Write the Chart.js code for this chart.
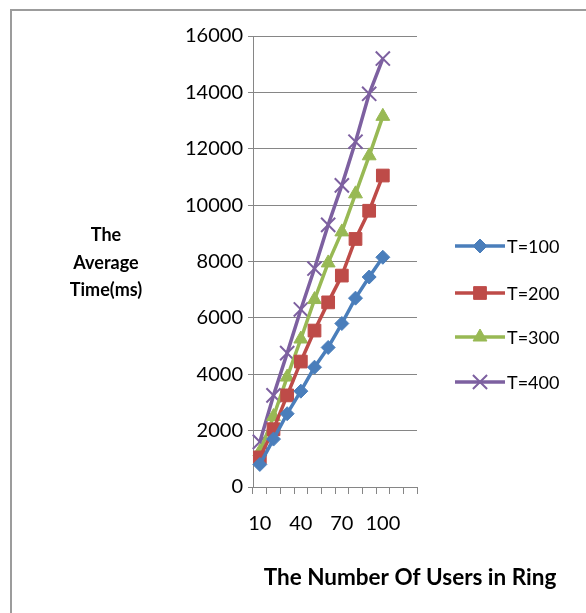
<!DOCTYPE html>
<html>
<head>
<meta charset="utf-8">
<script src="https://cdn.jsdelivr.net/npm/chart.js@4/dist/chart.umd.min.js"></script>
<style>
  html, body { margin: 0; padding: 0; background: #fff; overflow: hidden; }
  #wrap { position: relative; width: 586px; height: 613px; }
  #frame { position: absolute; left: 10px; top: 9px; width: 700px; height: 700px;
           border-left: 2px solid #9c9c9c; border-top: 2px solid #9c9c9c; }
  canvas { position: absolute; left: 0; top: 0; }
</style>
</head>
<body>
<div id="wrap">
  <div id="frame"></div>
  <canvas id="c" width="586" height="613"></canvas>
</div>
<script>
// Number of users in the ring (category axis)
const userCounts = ['10', '20', '30', '40', '50', '60', '70', '80', '90', '100', '110', '120'];

// Average time (ms) for each timeout setting
const seriesNames = ['T=100', 'T=200', 'T=300', 'T=400'];
const t100 = [800, 1700, 2600, 3400, 4250, 4950, 5800, 6700, 7450, 8150];
const t200 = [1050, 2050, 3250, 4450, 5550, 6550, 7500, 8800, 9800, 11050];
const t300 = [1250, 2500, 3900, 5250, 6650, 7950, 9050, 10400, 11750, 13150];
const t400 = [1600, 3250, 4750, 6300, 7750, 9300, 10700, 12250, 13950, 15200];

const yMin = 0, yMax = 16000, yStep = 2000;

const yTitleLines = ['The', 'Average', 'Time(ms)'];
const xTitle = 'The Number Of Users in Ring';

const colors = ['#4a7ebb', '#be4b48', '#98b954', '#7d60a0'];
const markers = ['rectRot', 'rect', 'triangle', 'crossRot'];
const radii = [7, 9, 8, 10];
const seriesValues = [t100, t200, t300, t400];

const datasets = seriesNames.map((name, i) => ({
  label: name,
  data: seriesValues[i],
  borderColor: colors[i],
  backgroundColor: colors[i],
  borderWidth: 3.5,
  pointStyle: markers[i],
  pointRadius: radii[i],
  pointBorderWidth: markers[i] === 'crossRot' ? 2 : 1,
  pointBackgroundColor: colors[i],
  pointBorderColor: colors[i],
  borderJoinStyle: 'round',
  tension: 0,
  clip: false
}));

const GRID = '#868686';

// Horizontal axis titles and line-with-marker legend on the right
const decorations = {
  id: 'decorations',
  afterDraw(chart) {
    const ctx = chart.ctx;
    ctx.save();
    ctx.fillStyle = '#000';
    ctx.textAlign = 'center';
    ctx.textBaseline = 'middle';
    ctx.font = 'bold 18px Lato';
    const yRows = [235, 263, 290];
    yTitleLines.forEach((t, i) => ctx.fillText(t, 106, yRows[i]));
    ctx.font = 'bold 22.5px Lato';
    ctx.fillText(xTitle, 410, 578);

    const rows = [246, 293, 337, 382];
    chart.data.datasets.forEach((ds, i) => {
      const y = rows[i];
      ctx.strokeStyle = ds.borderColor;
      ctx.lineWidth = 3.5;
      ctx.beginPath();
      ctx.moveTo(455, y);
      ctx.lineTo(505, y);
      ctx.stroke();
      ctx.fillStyle = ds.pointBackgroundColor;
      ctx.strokeStyle = ds.pointBorderColor;
      ctx.lineWidth = ds.pointBorderWidth;
      Chart.helpers.drawPoint(ctx, {
        pointStyle: ds.pointStyle, radius: ds.pointRadius, rotation: 0, borderWidth: ds.pointBorderWidth
      }, 480, y);
      ctx.fillStyle = '#000';
      ctx.textAlign = 'left';
      ctx.font = '18px Lato';
      ctx.fillText(ds.label, 507, y + 1);
    });
    ctx.restore();
  }
};

new Chart(document.getElementById('c'), {
  type: 'line',
  data: { labels: userCounts, datasets },
  plugins: [decorations],
  options: {
    responsive: false,
    animation: false,
    layout: { padding: { left: 0, right: 169, top: 36, bottom: 76 } },
    plugins: { legend: { display: false }, tooltip: { enabled: false } },
    scales: {
      x: {
        type: 'category',
        offset: true,
        grid: { offset: true, drawOnChartArea: false, drawTicks: true, tickLength: 7, color: GRID },
        border: { color: GRID, width: 1 },
        ticks: {
          autoSkip: false, maxRotation: 0, padding: 18, color: '#000',
          font: { family: 'Lato', size: 20 },
          callback: (v, i) => (i % 3 === 0 ? userCounts[i] : '')
        },
        afterFit: s => { s.height = 50; }
      },
      y: {
        min: yMin, max: yMax,
        grid: { color: GRID, tickLength: 5 },
        border: { color: GRID, width: 1 },
        ticks: {
          stepSize: yStep, padding: 5, color: '#000',
          font: { family: 'Lato', size: 20 },
          callback: v => String(v)
        },
        afterFit: s => { s.width = 253; }
      }
    }
  }
});
</script>
</body>
</html>
